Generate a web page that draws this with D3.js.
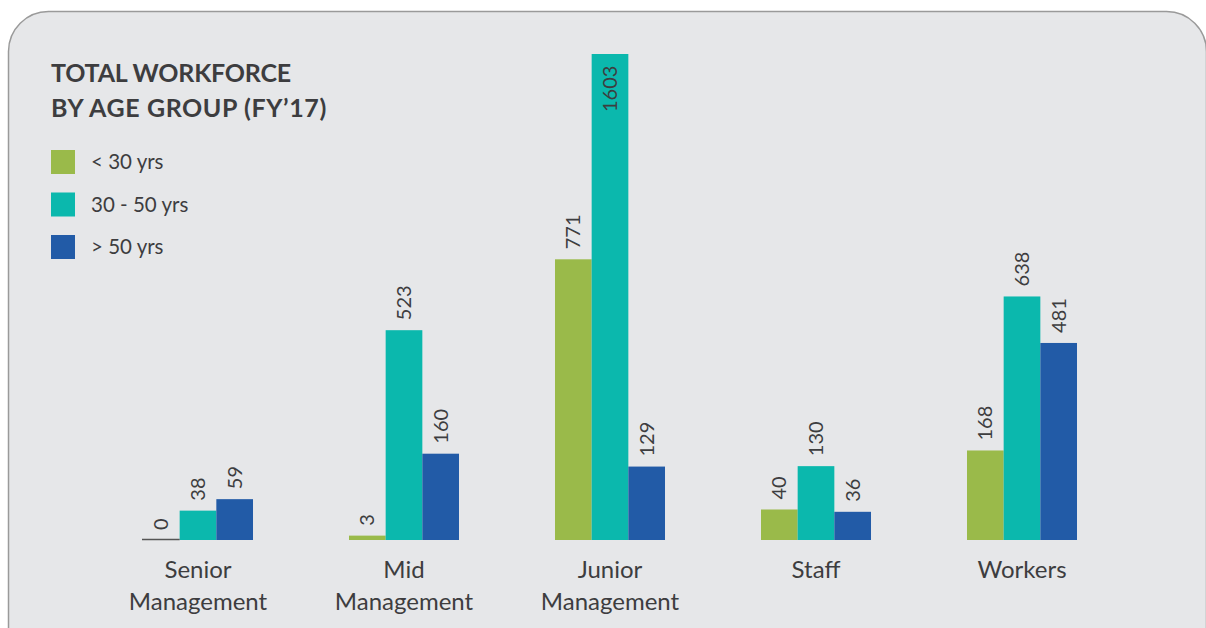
<!DOCTYPE html>
<html>
<head>
<meta charset="utf-8">
<script src="https://cdn.jsdelivr.net/npm/d3@7/dist/d3.min.js"></script>
<style>
  html, body { margin: 0; padding: 0; background: #ffffff; }
  svg { display: block; }
</style>
</head>
<body>
<svg id="chart" width="1206" height="628"></svg>
<script>
// Workforce headcount by level and age band, FY'17
const categories = [["Senior", "Management"], ["Mid", "Management"], ["Junior", "Management"], ["Staff"], ["Workers"]];
const seriesNames = ["< 30 yrs", "30 - 50 yrs", "> 50 yrs"];
const under30 = [0, 3, 771, 40, 168];
const from30to50 = [38, 523, 1603, 130, 638];
const over50 = [59, 160, 129, 36, 481];
const seriesColors = ["#9aba4a", "#0bb8ad", "#225ba7"];
const titleLines = ["TOTAL WORKFORCE", "BY AGE GROUP (FY\u201917)"];

const series = [under30, from30to50, over50];
const font = "Lato, 'Open Sans', sans-serif";
const textColor = "#3d3d3f";

const svg = d3.select("#chart");

// Rounded card background
svg.append("rect")
  .attr("x", 8.5).attr("y", 11.5)
  .attr("width", 1198).attr("height", 660)
  .attr("rx", 40).attr("ry", 40)
  .attr("fill", "#e6e7e9")
  .attr("stroke", "#9a9a9a")
  .attr("stroke-width", 1.5);

// Title
svg.append("g").selectAll("text")
  .data(titleLines).join("text")
  .attr("x", 51).attr("y", (d, i) => 82 + i * 35)
  .attr("font-family", font).attr("font-weight", 700)
  .attr("font-size", 25).attr("fill", textColor)
  .attr("letter-spacing", (d, i) => i === 0 ? -0.2 : 0.6)
  .text(d => d);

// Legend
const legend = svg.append("g").selectAll("g")
  .data(seriesNames).join("g")
  .attr("transform", (d, i) => `translate(51, ${150 + i * 42.5})`);
legend.append("rect")
  .attr("width", 24).attr("height", 24)
  .attr("fill", (d, i) => seriesColors[i]);
legend.append("text")
  .attr("x", 40).attr("y", 12).attr("dy", "0.35em")
  .attr("font-family", font).attr("font-size", 20.5).attr("fill", textColor)
  .text(d => d);

// Scales
const catKeys = categories.map(c => c.join(" "));
const x0 = d3.scaleBand().domain(catKeys).range([95, 1125]).paddingInner(0.466).paddingOuter(0.233);
const x1 = d3.scaleBand().domain(d3.range(seriesNames.length)).range([0, x0.bandwidth()]);
const maxVal = d3.max(series, s => d3.max(s));
const y = d3.scalePow().exponent(0.75).domain([0, maxVal]).range([540, 54]);

const rows = catKeys.map((k, ci) => ({
  key: k,
  values: series.map((s, si) => ({ si, v: s[ci] }))
}));

const groups = svg.append("g").selectAll("g")
  .data(rows).join("g")
  .attr("transform", d => `translate(${x0(d.key)},0)`);

// Bars
groups.selectAll("rect.bar")
  .data(d => d.values.filter(e => e.v > 0)).join("rect")
  .attr("class", "bar")
  .attr("x", e => x1(e.si))
  .attr("y", e => y(e.v))
  .attr("width", x1.bandwidth())
  .attr("height", e => y(0) - y(e.v))
  .attr("fill", e => seriesColors[e.si]);

// Zero values drawn as a baseline stroke
groups.selectAll("line.zero")
  .data(d => d.values.filter(e => e.v === 0)).join("line")
  .attr("class", "zero")
  .attr("x1", e => x1(e.si) - 1).attr("x2", e => x1(e.si) + x1.bandwidth())
  .attr("y1", y(0) - 0.5).attr("y2", y(0) - 0.5)
  .attr("stroke", "#555").attr("stroke-width", 1.5);

// Value labels, rotated; the tallest sits inside its bar
groups.selectAll("text.val")
  .data(d => d.values).join("text")
  .attr("class", "val")
  .attr("transform", e => {
    const cx = x1(e.si) + x1.bandwidth() / 2;
    const inside = e.v === maxVal;
    const yy = inside ? y(e.v) + 58 : y(e.v) - 10;
    return `translate(${cx},${yy}) rotate(-90)`;
  })
  .attr("dy", "0.35em")
  .attr("font-family", font).attr("font-size", 20).attr("fill", textColor)
  .text(e => e.v);

// Category axis labels
const xAxis = svg.append("g");
xAxis.selectAll("text")
  .data(categories).join("text")
  .attr("x", (d, i) => x0(catKeys[i]) + x0.bandwidth() / 2)
  .attr("y", 578)
  .attr("text-anchor", "middle")
  .attr("font-family", font).attr("font-size", 24).attr("fill", textColor)
  .selectAll("tspan")
  .data(d => d).join("tspan")
  .attr("x", function() { return this.parentNode.getAttribute("x"); })
  .attr("dy", (d, i) => i === 0 ? 0 : 32)
  .text(d => d);
</script>
</body>
</html>
